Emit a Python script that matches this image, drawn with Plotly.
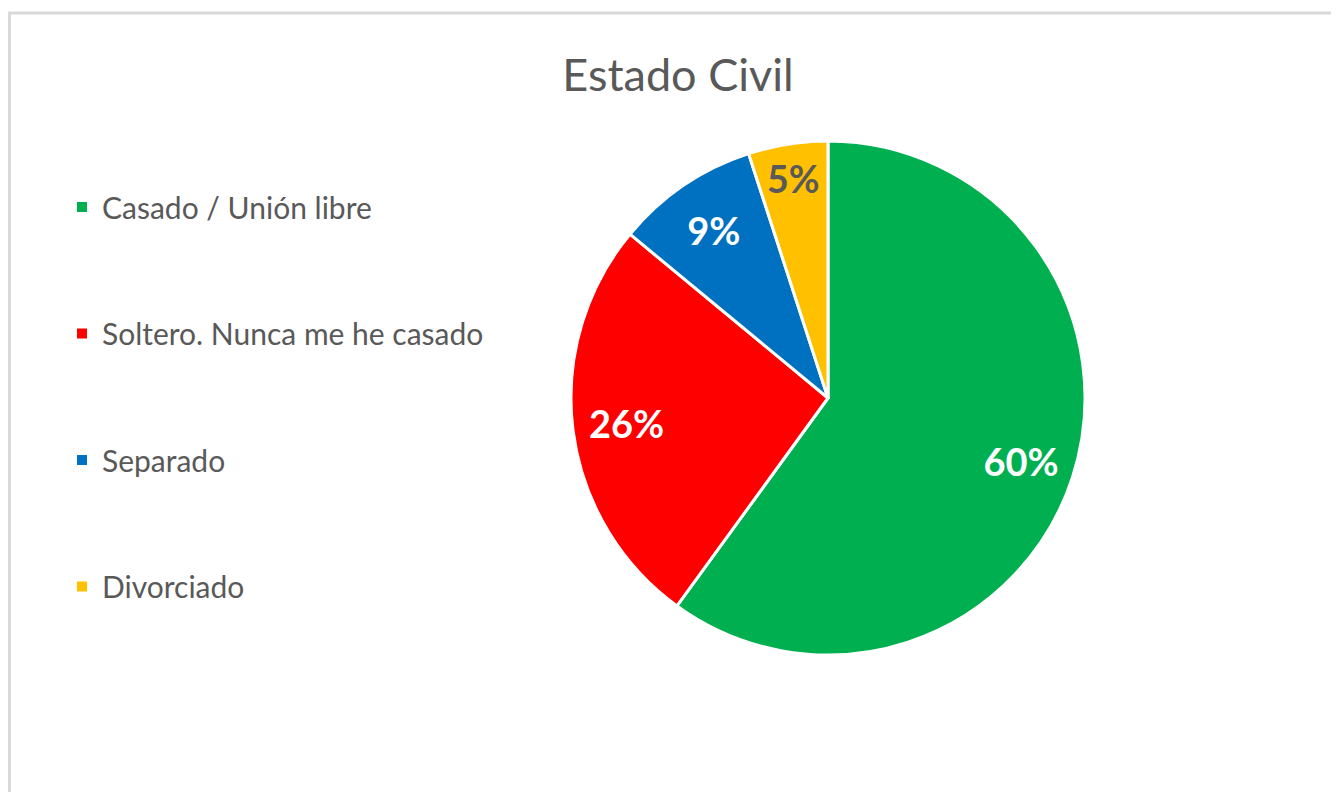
import plotly.graph_objects as go

categories = ["Casado / Unión libre", "Soltero. Nunca me he casado", "Separado", "Divorciado"]
values = [60, 26, 9, 5]
colors = ["#00B050", "#FF0000", "#0070C0", "#FFC000"]
label_colors = ["#FFFFFF", "#FFFFFF", "#FFFFFF", "#595959"]

W, H = 1339, 792
OFF = 8  # page body margin
cx, cy, r = 828 - OFF, 398 - OFF, 257
dom_x = [(cx - r) / W, (cx + r) / W]
dom_y = [(H - cy - r) / H, (H - cy + r) / H]

fig = go.Figure()

# main pie (slices)
fig.add_trace(go.Pie(
    labels=categories, values=values, sort=False, direction="clockwise", rotation=0,
    marker=dict(colors=colors, line=dict(color="#FFFFFF", width=3)),
    textinfo="none", showlegend=False, hoverinfo="label+percent",
    domain=dict(x=dom_x, y=dom_y),
))

# transparent ring carrying the percentage labels
fig.add_trace(go.Pie(
    labels=categories, values=values, sort=False, direction="clockwise", rotation=0,
    hole=0.58,
    marker=dict(colors=["rgba(0,0,0,0)"] * len(values), line=dict(width=0)),
    texttemplate="%{percent:.0%}", textposition="inside", insidetextorientation="horizontal",
    insidetextfont=dict(family="Lato", size=38, color=label_colors, weight="bold"),
    showlegend=False, hoverinfo="skip",
    domain=dict(x=dom_x, y=dom_y),
))

# legend entries
for cat, col in zip(categories, colors):
    fig.add_trace(go.Scatter(
        x=[None], y=[None], mode="markers", name=cat, legendgroup=cat,
        marker=dict(symbol="square", size=10, color=col),
        showlegend=True,
    ))

fig.update_layout(
    width=W, height=H,
    margin=dict(l=0, r=0, t=0, b=0),
    paper_bgcolor="#FFFFFF", plot_bgcolor="#FFFFFF",
    title=dict(text="Estado Civil", x=(678 - OFF) / W, xanchor="center", y=1 - (75 - OFF) / H, yanchor="middle",
               font=dict(family="Lato", size=45, color="#595959")),
    xaxis=dict(visible=False), yaxis=dict(visible=False),
    legend=dict(x=(62 - OFF) / W, xanchor="left", y=1 - (181 - OFF) / H, yanchor="top",
                font=dict(family="Lato", size=30, color="#595959"),
                tracegroupgap=84.5, bgcolor="rgba(0,0,0,0)"),
    shapes=[dict(type="rect", xref="paper", yref="paper",
                 x0=1.5 / W, x1=1.05, y0=-0.05, y1=1 - 5 / H,
                 line=dict(color="#D9D9D9", width=3), fillcolor="rgba(0,0,0,0)", layer="below")],
)

fig.write_html("out.html")
